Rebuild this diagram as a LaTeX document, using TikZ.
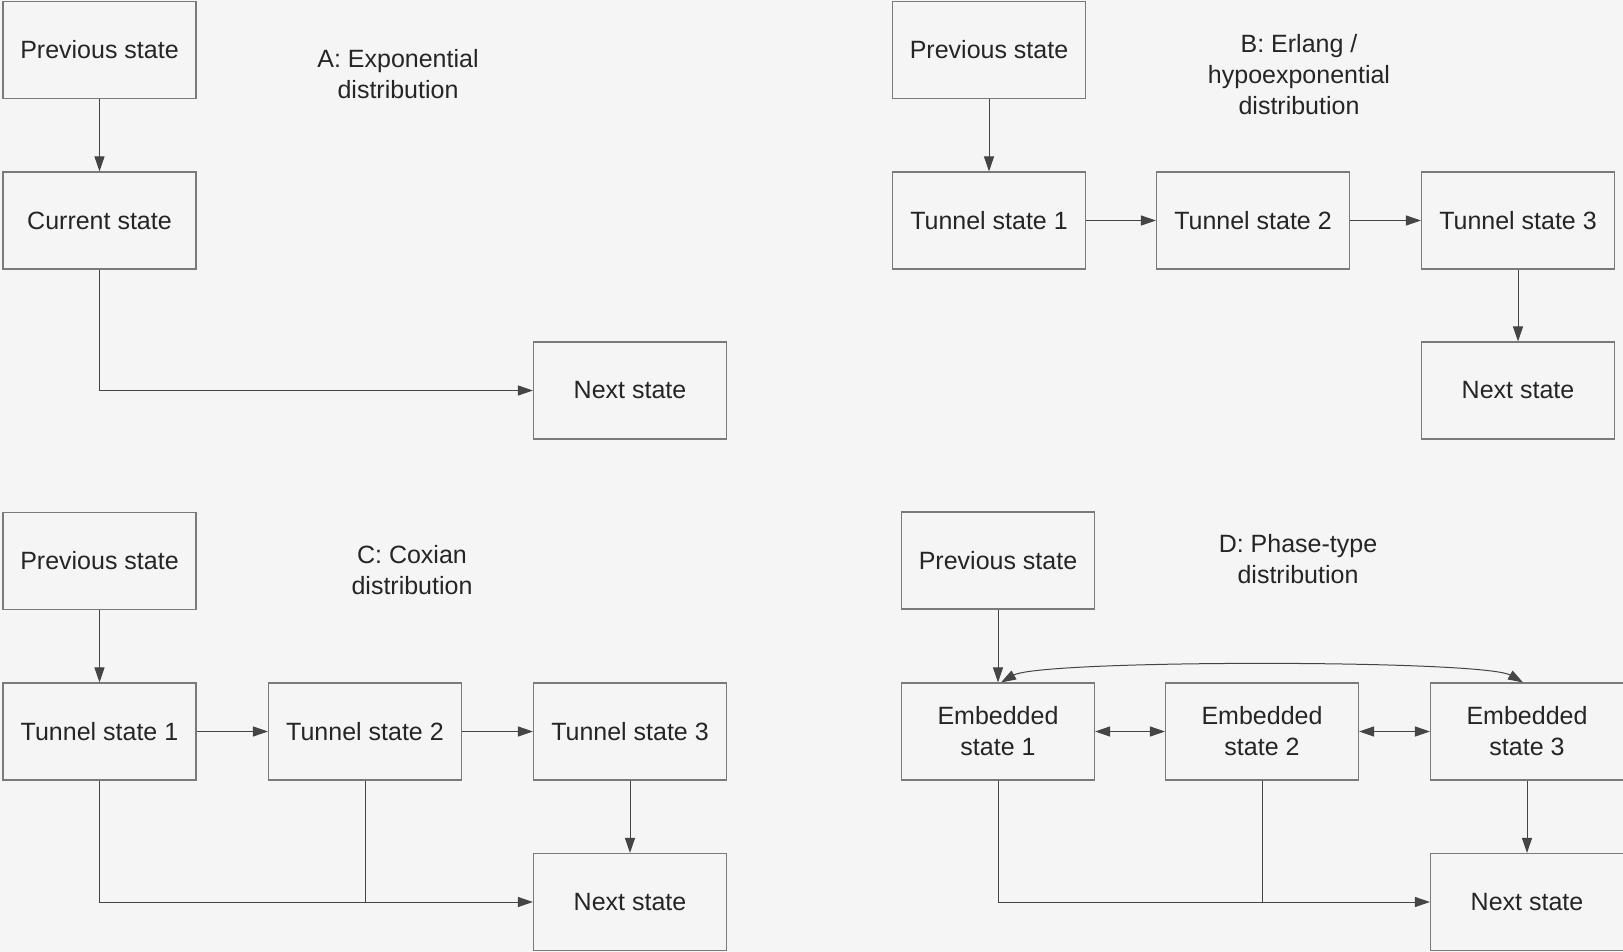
\documentclass[tikz,border=0pt]{standalone}
\usepackage{fontspec}
\setmainfont{Liberation Sans}
\usetikzlibrary{arrows.meta}
\definecolor{bg}{HTML}{F5F5F5}
\definecolor{boxgray}{HTML}{7A7A7A}
\definecolor{linegray}{HTML}{454545}
\definecolor{txt}{HTML}{252525}
\begin{document}
\begin{tikzpicture}[x=1pt,y=-1pt,
  box/.style={draw=boxgray, line width=1.1pt, minimum width=193pt, minimum height=97pt,
    inner sep=0pt, font=\fontsize{25}{31}\selectfont, text=txt, align=center},
  lbl/.style={font=\fontsize{25}{31}\selectfont, text=txt, align=center},
  tip/.tip={Triangle[length=15pt,width=10pt]},
  arr/.style={draw=linegray, line width=1pt, -tip},
  ln/.style={draw=linegray, line width=1pt},
  darr/.style={draw=linegray, line width=1pt, tip-tip}]
\fill[bg] (0,0) rectangle (1623,952);
\useasboundingbox (0,0) rectangle (1623,952);

% A
\node[box] (aprev) at (99.5,50) {Previous state};
\node[box] (acur) at (99.5,220.5) {Current state};
\node[box] (anext) at (630,390.5) {Next state};
\node[lbl] (alab) at (398,74) {A: Exponential\\distribution};
\draw[arr] (aprev) -- (acur);
\draw[arr] (acur.south) |- (anext.west);

% B
\node[box] (bprev) at (989,50) {Previous state};
\node[box] (bt1) at (989,220.5) {Tunnel state 1};
\node[box] (bt2) at (1253,220.5) {Tunnel state 2};
\node[box] (bt3) at (1518,220.5) {Tunnel state 3};
\node[box] (bnext) at (1518,390.5) {Next state};
\node[lbl] (blab) at (1299,75) {B: Erlang /\\hypoexponential\\distribution};
\draw[arr] (bprev) -- (bt1);
\draw[arr] (bt1) -- (bt2);
\draw[arr] (bt2) -- (bt3);
\draw[arr] (bt3) -- (bnext);

% C
\node[box] (cprev) at (99.5,561) {Previous state};
\node[box] (ct1) at (99.5,731.5) {Tunnel state 1};
\node[box] (ct2) at (365,731.5) {Tunnel state 2};
\node[box] (ct3) at (630,731.5) {Tunnel state 3};
\node[box] (cnext) at (630,902) {Next state};
\node[lbl] (clab) at (412,570) {C: Coxian\\distribution};
\draw[arr] (cprev) -- (ct1);
\draw[arr] (ct1) -- (ct2);
\draw[arr] (ct2) -- (ct3);
\draw[arr] (ct3) -- (cnext);
\draw[arr] (ct1.south) |- (cnext.west);
\draw[ln] (ct2.south) -- (ct2.south |- cnext.west);

% D
\node[box] (dprev) at (998,560.5) {Previous state};
\node[box] (de1) at (998,731.5) {Embedded\\state 1};
\node[box] (de2) at (1262,731.5) {Embedded\\state 2};
\node[box] (de3) at (1527,731.5) {Embedded\\state 3};
\node[box] (dnext) at (1527,902) {Next state};
\node[lbl] (dlab) at (1298,559) {D: Phase-type\\distribution};
\draw[arr] (dprev) -- (de1);
\draw[darr] ([xshift=3pt]de1.north) .. controls +(40,-23) and +(-40,-23) .. ([xshift=-4pt]de3.north);
\draw[darr] (de1) -- (de2);
\draw[darr] (de2) -- (de3);
\draw[arr] (de3) -- (dnext);
\draw[arr] (de1.south) |- (dnext.west);
\draw[ln] (de2.south) -- (de2.south |- dnext.west);
\end{tikzpicture}
\end{document}
